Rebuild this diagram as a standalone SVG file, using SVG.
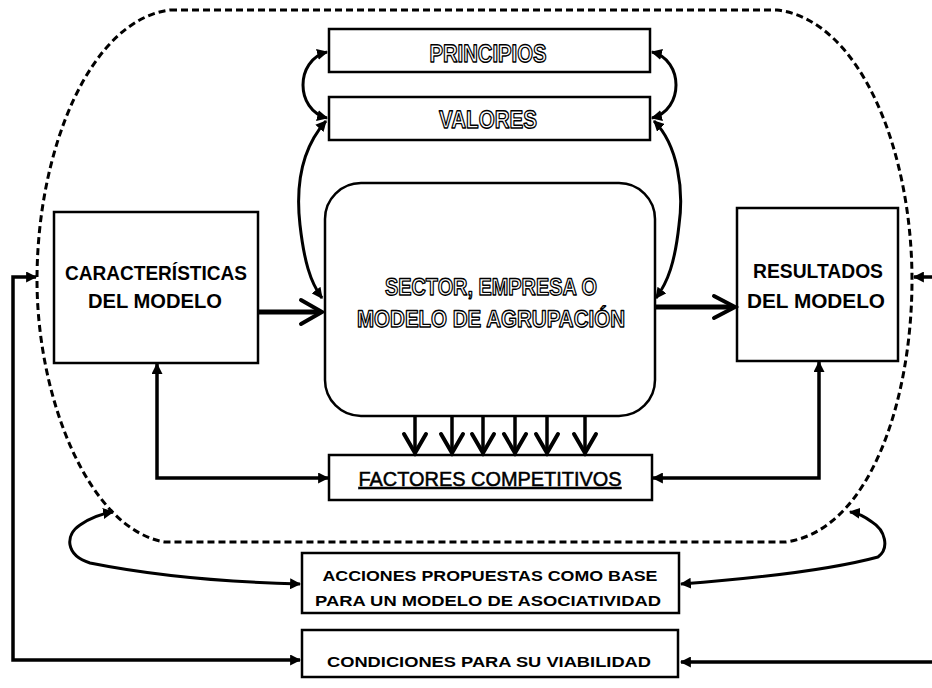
<svg xmlns="http://www.w3.org/2000/svg" width="932" height="688" viewBox="0 0 932 688">
<style>
.box{fill:#fff;stroke:#000;stroke-width:2.5}
.lbl{font-family:"Liberation Sans",Arial,sans-serif;font-weight:bold;fill:#000;text-anchor:middle}
.out{font-family:"Liberation Sans",Arial,sans-serif;font-weight:bold;fill:#fff;stroke:#000;stroke-width:1.4;stroke-linejoin:round;text-anchor:middle;text-rendering:geometricPrecision}
.ln{fill:none;stroke:#000;stroke-width:3.5}
.cv{fill:none;stroke:#000;stroke-width:3}
.thick{fill:none;stroke:#000;stroke-width:5}
.chev{fill:none;stroke:#000;stroke-width:4;stroke-linecap:round;stroke-linejoin:miter}
.dash{fill:none;stroke:#000;stroke-width:3;stroke-dasharray:7 4}
</style>
<defs>
<marker id="ah" viewBox="0 0 10 10" refX="9" refY="5" markerWidth="11" markerHeight="11" markerUnits="userSpaceOnUse" orient="auto-start-reverse">
<path d="M0,0 L10,5 L0,10 Z" fill="#000"/>
</marker>
</defs>

<path id="boundary" class="dash" d="M 170 10 L 777 10 C 860 20 912 150 912 280 C 912 400 870 530 786 542 L 165 542 C 90 530 37 400 37 280 C 37 150 90 20 170 10 Z"/>

<g id="principios">
<rect class="box" x="329" y="29" width="321" height="43"/>
<text class="out" x="488" y="62" font-size="25" textLength="117" lengthAdjust="spacingAndGlyphs">PRINCIPIOS</text>
</g>
<g id="valores">
<rect class="box" x="329" y="97" width="321" height="43"/>
<text class="out" x="488" y="128" font-size="25" textLength="98" lengthAdjust="spacingAndGlyphs">VALORES</text>
</g>
<g id="sector">
<rect class="box" x="325" y="183" width="330" height="233" rx="36"/>
<text class="out" x="491" y="295" font-size="24" textLength="212" lengthAdjust="spacingAndGlyphs">SECTOR, EMPRESA O</text>
<text class="out" x="491" y="327" font-size="24" textLength="268" lengthAdjust="spacingAndGlyphs">MODELO DE AGRUPACIÓN</text>
</g>
<g id="caracteristicas">
<rect class="box" x="54" y="212" width="204" height="151"/>
<text class="lbl" x="156" y="280" font-size="20" textLength="182" lengthAdjust="spacingAndGlyphs">CARACTERÍSTICAS</text>
<text class="lbl" x="155" y="308" font-size="20" textLength="134" lengthAdjust="spacingAndGlyphs">DEL MODELO</text>
</g>
<g id="resultados">
<rect class="box" x="737" y="208" width="161" height="153"/>
<text class="lbl" x="818" y="278" font-size="20" textLength="130" lengthAdjust="spacingAndGlyphs">RESULTADOS</text>
<text class="lbl" x="816" y="308" font-size="20" textLength="138" lengthAdjust="spacingAndGlyphs">DEL MODELO</text>
</g>
<g id="factores">
<rect class="box" x="329" y="455" width="323" height="45"/>
<text class="lbl" x="490" y="486" font-size="20" textLength="263" lengthAdjust="spacingAndGlyphs" text-decoration="underline" style="font-weight:normal;stroke:#000;stroke-width:0.5">FACTORES COMPETITIVOS</text>
</g>
<g id="acciones">
<rect class="box" x="302" y="553" width="377" height="60"/>
<text class="lbl" x="490" y="581" font-size="15" textLength="335" lengthAdjust="spacingAndGlyphs">ACCIONES PROPUESTAS COMO BASE</text>
<text class="lbl" x="488" y="606" font-size="15" textLength="346" lengthAdjust="spacingAndGlyphs">PARA UN MODELO DE ASOCIATIVIDAD</text>
</g>
<g id="condiciones">
<rect class="box" x="302" y="630" width="376" height="47"/>
<text class="lbl" x="489" y="667" font-size="15" textLength="324" lengthAdjust="spacingAndGlyphs">CONDICIONES PARA SU VIABILIDAD</text>
</g>

<g id="connectors">
<line class="thick" x1="258" y1="312" x2="320" y2="312"/>
<polyline class="chev" points="301,300 322,312 301,324"/>
<line class="thick" x1="655" y1="307" x2="733" y2="307"/>
<polyline class="chev" points="714,296 735,307 714,318"/>
<g>
<line class="ln" x1="415" y1="416" x2="415" y2="452" stroke-width="4"/><polyline class="chev" points="404,434 415,453 426,434"/>
<line class="ln" x1="452" y1="416" x2="452" y2="452" stroke-width="4"/><polyline class="chev" points="441,434 452,453 463,434"/>
<line class="ln" x1="483" y1="416" x2="483" y2="452" stroke-width="4"/><polyline class="chev" points="472,434 483,453 494,434"/>
<line class="ln" x1="515" y1="416" x2="515" y2="452" stroke-width="4"/><polyline class="chev" points="504,434 515,453 526,434"/>
<line class="ln" x1="547" y1="416" x2="547" y2="452" stroke-width="4"/><polyline class="chev" points="536,434 547,453 558,434"/>
<line class="ln" x1="585" y1="416" x2="585" y2="452" stroke-width="4"/><polyline class="chev" points="574,434 585,453 596,434"/>
</g>
<path class="cv" d="M 327 52 C 295 60 295 110 327 118" marker-start="url(#ah)" marker-end="url(#ah)"/>
<path class="cv" d="M 652 52 C 684 60 684 110 652 118" marker-start="url(#ah)" marker-end="url(#ah)"/>
<path class="cv" d="M 326 121 C 300 150 296 190 300 225 C 304 260 310 282 322 298" marker-start="url(#ah)" marker-end="url(#ah)"/>
<path class="cv" d="M 654 121 C 678 145 684 190 679 225 C 675 262 668 282 656 298" marker-start="url(#ah)" marker-end="url(#ah)"/>
<polyline class="ln" points="157,364 157,478 328,478" marker-start="url(#ah)" marker-end="url(#ah)"/>
<polyline class="ln" points="819,362 819,478 653,478" marker-start="url(#ah)" marker-end="url(#ah)"/>
<path class="cv" d="M 300 584 C 220 582 150 575 90 563 C 65 555 65 535 80 525 C 90 518 100 514 113 512" marker-start="url(#ah)" marker-end="url(#ah)"/>
<path class="cv" d="M 681 584 C 760 578 830 570 878 557 C 890 548 885 530 872 522 C 864 516 858 513 850 512" marker-start="url(#ah)" marker-end="url(#ah)"/>
<polyline class="ln" points="300,660 13,660 13,277 36,277" marker-start="url(#ah)" marker-end="url(#ah)"/>
<polyline class="ln" points="681,662 936,662 936,277 914,277" marker-start="url(#ah)" marker-end="url(#ah)"/>
</g>
</svg>
